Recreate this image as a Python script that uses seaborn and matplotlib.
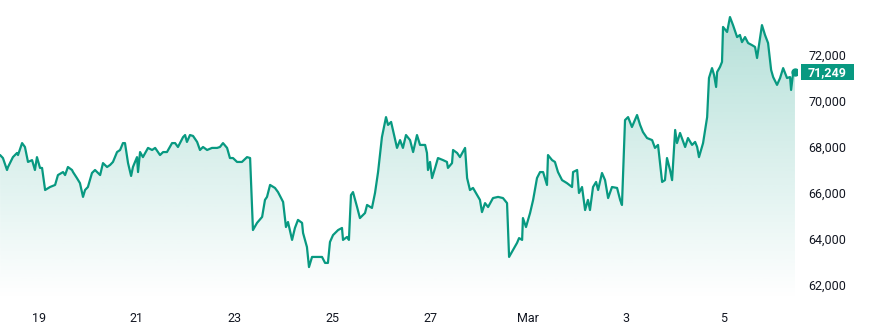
import numpy as np
import pandas as pd
import matplotlib
matplotlib.use("Agg")
import matplotlib.pyplot as plt
import matplotlib.dates as mdates
from matplotlib.colors import LinearSegmentedColormap
from matplotlib.patches import Rectangle
from matplotlib.transforms import blended_transform_factory
import seaborn as sns

# ---------------- data ----------------
START = "2026-02-18"
# hours since START
hours = [4.9, 6.3, 8.3, 8.8, 11.2, 13.2, 13.7, 15.7, 17.1, 18.6, 20.6, 22.0, 23.0, 24.5, 25.5,
         27.0, 29.4, 31.9, 33.3, 35.8, 36.8, 38.2, 40.2, 40.7, 42.6, 44.1, 45.6, 46.6, 48.0,
         50.0, 51.5, 53.0, 54.0, 55.4, 57.4, 58.9, 60.3, 62.3, 63.8, 65.2, 66.2, 67.7, 69.2,
         70.1, 72.1, 72.6, 73.6, 75.0, 77.5, 79.5, 81.0, 83.4, 84.9, 86.8, 89.3, 90.8, 92.2,
         94.7, 95.7, 96.6, 98.1, 99.6, 101.6, 103.0, 104.5, 106.5, 108.9, 111.4, 112.8, 114.3,
         116.3, 117.7, 119.2, 121.2, 123.6, 126.1, 127.6, 129.0, 131.0, 133.5, 134.9, 135.9,
         137.4, 139.8, 141.3, 143.8, 145.2, 146.2, 148.2, 149.6, 151.1, 153.1, 153.6, 155.5,
         156.5, 158.0, 160.4, 162.9, 164.4, 165.8, 166.8, 168.3, 170.8, 172.7, 173.2, 175.2,
         176.1, 177.1, 178.1, 180.1, 181.5, 184.0, 185.0, 187.4, 188.9, 190.4, 192.3, 193.3,
         194.3, 195.3, 196.8, 197.7, 199.7, 201.2, 202.6, 204.1, 206.1, 207.6, 209.5, 211.0,
         213.5, 214.4, 214.9, 215.9, 216.9, 218.4, 219.8, 222.3, 224.2, 224.7, 226.7, 227.2,
         229.2, 230.6, 233.1, 234.1, 235.5, 237.0, 239.0, 240.4, 241.4, 242.9, 244.4, 246.8,
         249.3, 251.7, 253.7, 254.7, 256.6, 258.6, 259.6, 261.1, 261.5, 263.0, 265.0, 266.5,
         268.4, 269.9, 271.4, 273.3, 273.8, 275.8, 277.2, 278.7, 280.7, 283.1, 285.6, 286.1,
         288.1, 289.0, 290.5, 292.0, 293.4, 294.4, 295.9, 297.4, 298.4, 300.3, 301.8, 303.3,
         305.2, 307.7, 309.2, 310.1, 311.6, 313.1, 315.0, 317.5, 319.0, 320.4, 322.4, 324.9,
         326.3, 327.8, 329.8, 331.2, 332.2, 333.7, 334.7, 336.2, 337.1, 338.6, 341.1, 342.5,
         344.5, 346.0, 347.0, 347.9, 349.9, 351.9, 352.8, 354.3, 355.3, 356.3, 356.8, 358.2,
         359.2, 359.7, 361.7, 363.1, 364.6, 366.6, 368.0, 369.0, 370.5, 372.0, 373.9, 375.4,
         376.4, 377.9, 378.8, 380.3, 381.8, 383.3, 384.3, 386.2, 387.7, 389.2, 391.1, 392.6,
         393.1, 394.1, 395.0]

prices = [67650, 67520, 67000, 67130, 67560, 67740, 67650, 68170, 68000, 67350, 67430, 67000, 67560, 67090, 67090,
          66130, 66260, 66350, 66780, 66910, 66780, 67130, 67000, 66910, 66650, 66430, 65830, 66130, 66260,
          66870, 67000, 66870, 66780, 67300, 67130, 67220, 67350, 67780, 67870, 68170, 68170, 67300, 66740,
          67130, 67560, 66910, 67780, 67560, 67960, 67870, 67960, 67650, 67780, 67780, 68170, 68170, 68000,
          68430, 68520, 68220, 68520, 68480, 68220, 67870, 68000, 67870, 67960, 67960, 68000, 68170,
          67960, 67520, 67520, 67350, 67350, 67560, 67520, 64390, 64700, 64960, 65700, 65830,
          66350, 66220, 66040, 65610, 64520, 64740, 63960, 64480, 64830, 64700, 64260, 63650,
          62780, 63220, 63220, 63220, 62960, 62960, 63870, 64170, 64390, 64480, 63960, 64090,
          63960, 65910, 66040, 65390, 64910, 65130, 65480, 65350, 66000, 66910, 68430, 68870,
          69300, 68960, 69090, 68740, 67960, 68300, 67960, 68520, 68300, 67780, 68520, 68090,
          68090, 67740, 67000, 67350, 66650, 67090, 67520, 67430, 67350, 67090, 67300, 67870,
          67740, 67560, 67960, 66650, 66130, 66220, 65910, 65700, 65170, 65560, 65390, 65780,
          65830, 65780, 65560, 63220, 63520, 63830, 64040, 63960, 64910, 64520, 65130, 65700,
          66650, 66910, 66910, 66350, 67650, 67430, 67350, 66910, 66560, 66430, 66260, 66910,
          67000, 66000, 66260, 65260, 65700, 65260, 66260, 66480, 66130, 66870, 66560, 65780,
          66260, 66220, 65700, 65480, 69170, 69300, 68870, 69390, 68960, 68650, 68390, 68300,
          67960, 68090, 66480, 66560, 67520, 67000, 66560, 68740, 68170, 68610, 68000, 68390,
          68090, 68220, 68000, 67560, 68170, 69300, 71000, 71430, 71130, 70610, 71260, 71480,
          71700, 73220, 73000, 73650, 73300, 72780, 72870, 72560, 72780, 72520, 72430, 72350,
          71870, 72780, 73300, 72870, 72520, 71350, 71040, 70700, 71000, 71430, 71000, 71040,
          70480, 71220, 71249]

ytick_values = [62000, 64000, 66000, 68000, 70000, 72000]
xtick_dates = ["2026-02-19", "2026-02-21", "2026-02-23", "2026-02-25", "2026-02-27",
               "2026-03-01", "2026-03-03", "2026-03-05"]
xtick_labels = ["19", "21", "23", "25", "27", "Mar", "3", "5"]

# ---------------- style ----------------
LINE = "#089981"
TEXT = "#131722"
W, H = 869, 334

sns.set_theme(style="white")
plt.rcParams["font.family"] = ["Roboto", "DejaVu Sans"]

df = pd.DataFrame({
    "time": pd.Timestamp(START) + pd.to_timedelta(hours, unit="h"),
    "price": prices,
})

fig = plt.figure(figsize=(W / 100, H / 100), dpi=100)
ax = fig.add_axes([0, 34 / H, 797 / W, 300 / H])

x0 = pd.Timestamp(START) + pd.Timedelta(hours=4.86)
x1 = pd.Timestamp(START) + pd.Timedelta(hours=396.0)
ymin, ymax = 61348, 74391
ax.set_xlim(x0, x1)
ax.set_ylim(ymin, ymax)

# gradient area under the line
tnum = mdates.date2num(df["time"])
poly = ax.fill_between(tnum, df["price"], ymin, color="none", lw=0)
cmap = LinearSegmentedColormap.from_list(
    "g", [(8 / 255, 153 / 255, 129 / 255, 0.0), (8 / 255, 153 / 255, 129 / 255, 0.30)])
grad = np.linspace(0, 1, 256).reshape(-1, 1)
img = ax.imshow(grad, extent=[tnum.min(), tnum.max(), ymin, max(prices)],
                origin="lower", aspect="auto", cmap=cmap, zorder=1)
img.set_clip_path(poly.get_paths()[0], transform=ax.transData)

sns.lineplot(data=df, x="time", y="price", color=LINE, lw=1.6, ax=ax, zorder=3)
ax.plot(df["time"].iloc[-1], df["price"].iloc[-1], "o", color=LINE, ms=5, zorder=4)

ax.set_xlim(x0, x1)
ax.set_ylim(ymin, ymax)

for s in ax.spines.values():
    s.set_visible(False)
ax.grid(False)
ax.set_xlabel("")
ax.set_ylabel("")

ax.yaxis.tick_right()
ax.set_yticks(ytick_values)
ax.set_yticklabels([f"{v:,}" for v in ytick_values])
ax.tick_params(axis="y", length=0, pad=8, labelsize=9, colors=TEXT)

ax.set_xticks(pd.to_datetime(xtick_dates))
ax.set_xticklabels(xtick_labels)
ax.tick_params(axis="x", length=0, pad=9, labelsize=9, colors=TEXT)

# last price label
last = prices[-1]
blend = blended_transform_factory(ax.transAxes, ax.transData)
box_h = 16 / 300 * (ymax - ymin)
ax.add_patch(Rectangle((1 + 4 / 797, last - box_h / 2), 53 / 797, box_h,
                       transform=blend, clip_on=False, fc=LINE, ec="none", zorder=5))
ax.text(1 + 30.5 / 797, last, f"{last:,}", transform=blend, ha="center", va="center",
        color="white", fontsize=9, fontweight="bold", zorder=6, clip_on=False)

fig.savefig("out.png", dpi=100, facecolor="white")
